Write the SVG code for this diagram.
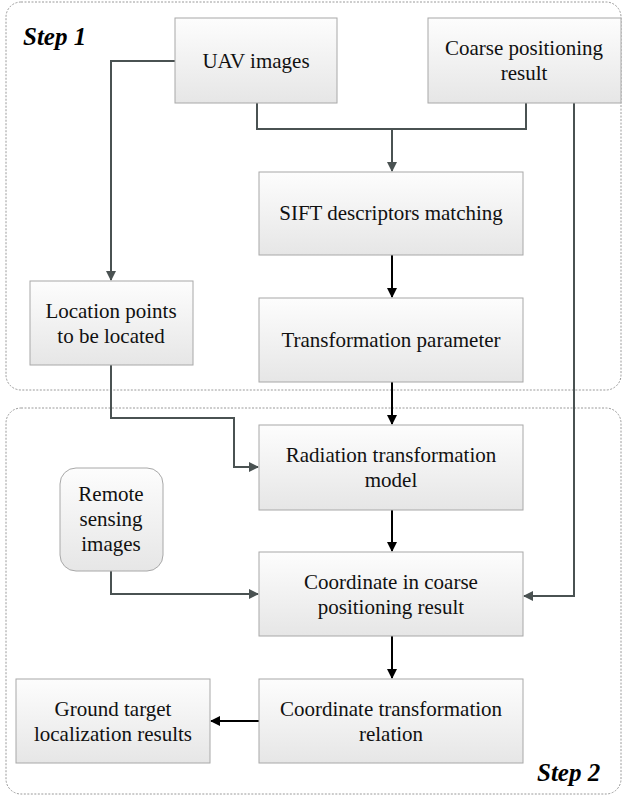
<svg xmlns="http://www.w3.org/2000/svg" width="625" height="796" viewBox="0 0 625 796">
<defs>
<linearGradient id="g" x1="0" y1="0" x2="0" y2="1">
<stop offset="0" stop-color="#fdfdfd"/>
<stop offset="1" stop-color="#e6e6e6"/>
</linearGradient>
<marker id="ag" viewBox="0 0 10 10" refX="9" refY="5" markerWidth="10" markerHeight="10" markerUnits="userSpaceOnUse" orient="auto">
<path d="M0,0 L10,5 L0,10 z" fill="#4a5252"/>
</marker>
<marker id="ak" viewBox="0 0 10 10" refX="9" refY="5" markerWidth="10" markerHeight="10" markerUnits="userSpaceOnUse" orient="auto">
<path d="M0,0 L10,5 L0,10 z" fill="#000"/>
</marker>
</defs>
<style>
.cont{fill:none;stroke:#9a9a9a;stroke-width:1;stroke-dasharray:2 1.5}
.box{fill:url(#g);stroke:#a8a8a8;stroke-width:1}
.t{font-family:"Times New Roman",Times,"Liberation Serif",Tinos,"Noto Serif","DejaVu Serif",serif;font-size:21px;fill:#111;text-anchor:middle}
.step{font-family:"Times New Roman",Times,"Liberation Serif",Tinos,"Noto Serif","DejaVu Serif",serif;font-size:25px;font-weight:bold;font-style:italic;fill:#000}
.cg{fill:none;stroke:#4a5252;stroke-width:2;marker-end:url(#ag)}
.cgn{fill:none;stroke:#4a5252;stroke-width:2}
.ck{fill:none;stroke:#000;stroke-width:2;marker-end:url(#ak)}
</style>
<g id="step1">
<rect class="cont" x="6" y="2" width="615" height="388" rx="15"/>
<text class="step" x="23" y="45">Step 1</text>
</g>
<g id="step2">
<rect class="cont" x="6" y="408" width="615" height="386" rx="15"/>
<text class="step" x="537" y="781">Step 2</text>
</g>
<g id="connectors">
<path class="cg" d="M175,61 H111 V280"/>
<path class="cgn" d="M257,103 V129 H526 V103"/>
<path class="cg" d="M392,129 V171"/>
<path class="ck" d="M392,255 V297"/>
<path class="ck" d="M392,382 V424"/>
<path class="cg" d="M111,365 V418 H234 V467 H258"/>
<path class="ck" d="M392,510 V551"/>
<path class="cg" d="M111,571 V594 H258"/>
<path class="cg" d="M574,103 V596 H524"/>
<path class="ck" d="M392,636 V678"/>
<path class="ck" d="M259,721 H211"/>
</g>
<g id="uav">
<rect class="box" x="175" y="18" width="162" height="85"/>
<text class="t" x="256" y="68">UAV images</text>
</g>
<g id="coarse">
<rect class="box" x="428" y="18" width="193" height="85"/>
<text class="t" x="524" y="55">Coarse positioning</text>
<text class="t" x="524" y="80">result</text>
</g>
<g id="sift">
<rect class="box" x="259" y="172" width="264" height="83"/>
<text class="t" x="391" y="220">SIFT descriptors matching</text>
</g>
<g id="transparam">
<rect class="box" x="259" y="298" width="264" height="84"/>
<text class="t" x="391" y="347">Transformation parameter</text>
</g>
<g id="location">
<rect class="box" x="30" y="281" width="163" height="84"/>
<text class="t" x="111" y="318">Location points</text>
<text class="t" x="111" y="343">to be located</text>
</g>
<g id="radiation">
<rect class="box" x="259" y="425" width="264" height="85"/>
<text class="t" x="391" y="462">Radiation transformation</text>
<text class="t" x="391" y="487">model</text>
</g>
<g id="remote">
<rect class="box" x="60" y="468" width="103" height="103" rx="16"/>
<text class="t" x="111" y="501">Remote</text>
<text class="t" x="111" y="526">sensing</text>
<text class="t" x="111" y="551">images</text>
</g>
<g id="coordcoarse">
<rect class="box" x="259" y="552" width="264" height="84"/>
<text class="t" x="391" y="589">Coordinate in coarse</text>
<text class="t" x="391" y="614">positioning result</text>
</g>
<g id="coordtrans">
<rect class="box" x="259" y="679" width="264" height="84"/>
<text class="t" x="391" y="716">Coordinate transformation</text>
<text class="t" x="391" y="741">relation</text>
</g>
<g id="ground">
<rect class="box" x="16" y="679" width="194" height="84"/>
<text class="t" x="113" y="716">Ground target</text>
<text class="t" x="113" y="741">localization results</text>
</g>
</svg>
